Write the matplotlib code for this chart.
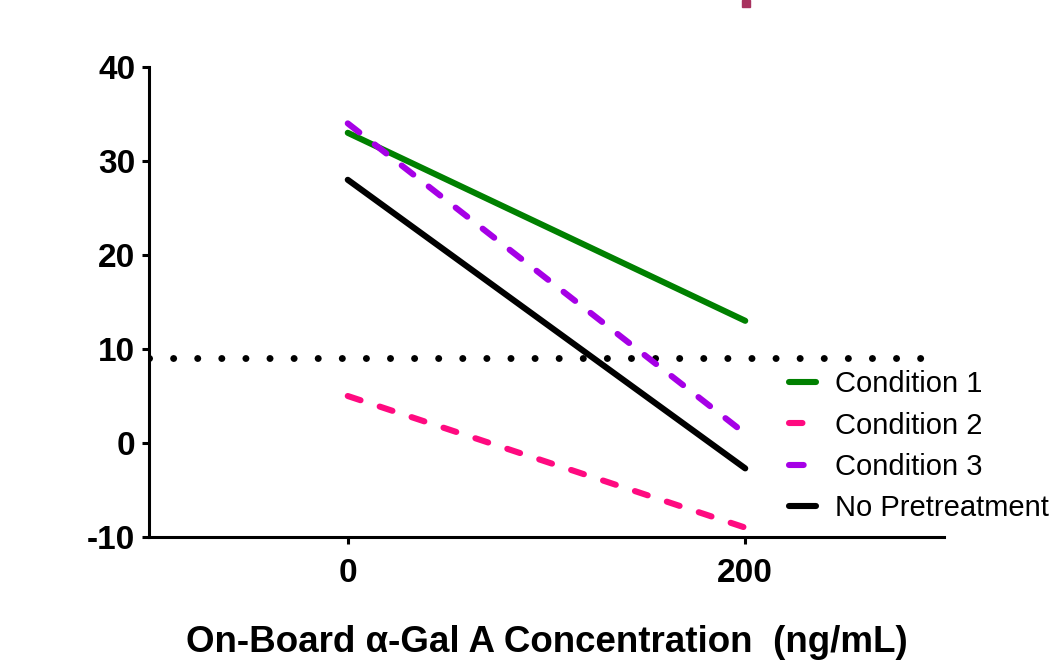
import matplotlib.pyplot as plt
from matplotlib.patches import Rectangle

plt.rcParams['font.family'] = ['Liberation Sans', 'DejaVu Sans']
plt.rcParams['axes.unicode_minus'] = False

conc = [0, 200]
cond1 = [33, 13]
cond2 = [5, -9]
cond3 = [34, 1]
no_pre = [28, -2.7]
cutoff = 9

series = [
    ("Condition 1", cond1, '#008000', '-'),
    ("Condition 2", cond2, '#ff0a80', (0, (2.2, 3.3))),
    ("Condition 3", cond3, '#a600e6', (0, (2.4, 3.2))),
    ("No Pretreatment", no_pre, 'black', '-'),
]

fig = plt.figure(figsize=(10.54, 6.62), dpi=100)
ax = fig.add_axes([0.1414, 0.1888, 0.7542, 0.71])

ax.axhline(cutoff, color='black', lw=5, linestyle=(0, (0.01, 3.46)),
           dash_capstyle='round', zorder=1)

for name, vals, col, ls in series:
    ax.plot(conc, vals, color=col, lw=4.4, linestyle=ls, label=name,
            solid_capstyle='round', dash_capstyle='round')

ax.set_xlim(-100, 300)
ax.set_ylim(-10, 40)
ax.set_xticks([0, 200])
ax.set_yticks([-10, 0, 10, 20, 30, 40])
for s in ['top', 'right']:
    ax.spines[s].set_visible(False)
for s in ['left', 'bottom']:
    ax.spines[s].set_linewidth(2.2)
ax.tick_params(width=2.2, length=5, labelsize=24)
for lab in ax.get_xticklabels() + ax.get_yticklabels():
    lab.set_fontweight('bold')
ax.tick_params(axis='x', pad=10)
ax.tick_params(axis='y', pad=5)

ax.set_xlabel('On-Board \u03b1-Gal A Concentration  (ng/mL)', fontsize=26.5,
              fontweight='bold', labelpad=26)

leg = ax.legend(loc='upper left', bbox_to_anchor=(0.805, 0.355), frameon=False,
                fontsize=21, handlelength=0.92, handletextpad=0.65,
                labelspacing=0.46, borderaxespad=0, borderpad=0)

# cropped title fragment at the top edge
fig.patches.append(Rectangle((742 / 1054, 1 - 7 / 662), 8 / 1054, 7 / 662,
                             transform=fig.transFigure, color='#a8325f'))

fig.savefig('out.png', dpi=100)
